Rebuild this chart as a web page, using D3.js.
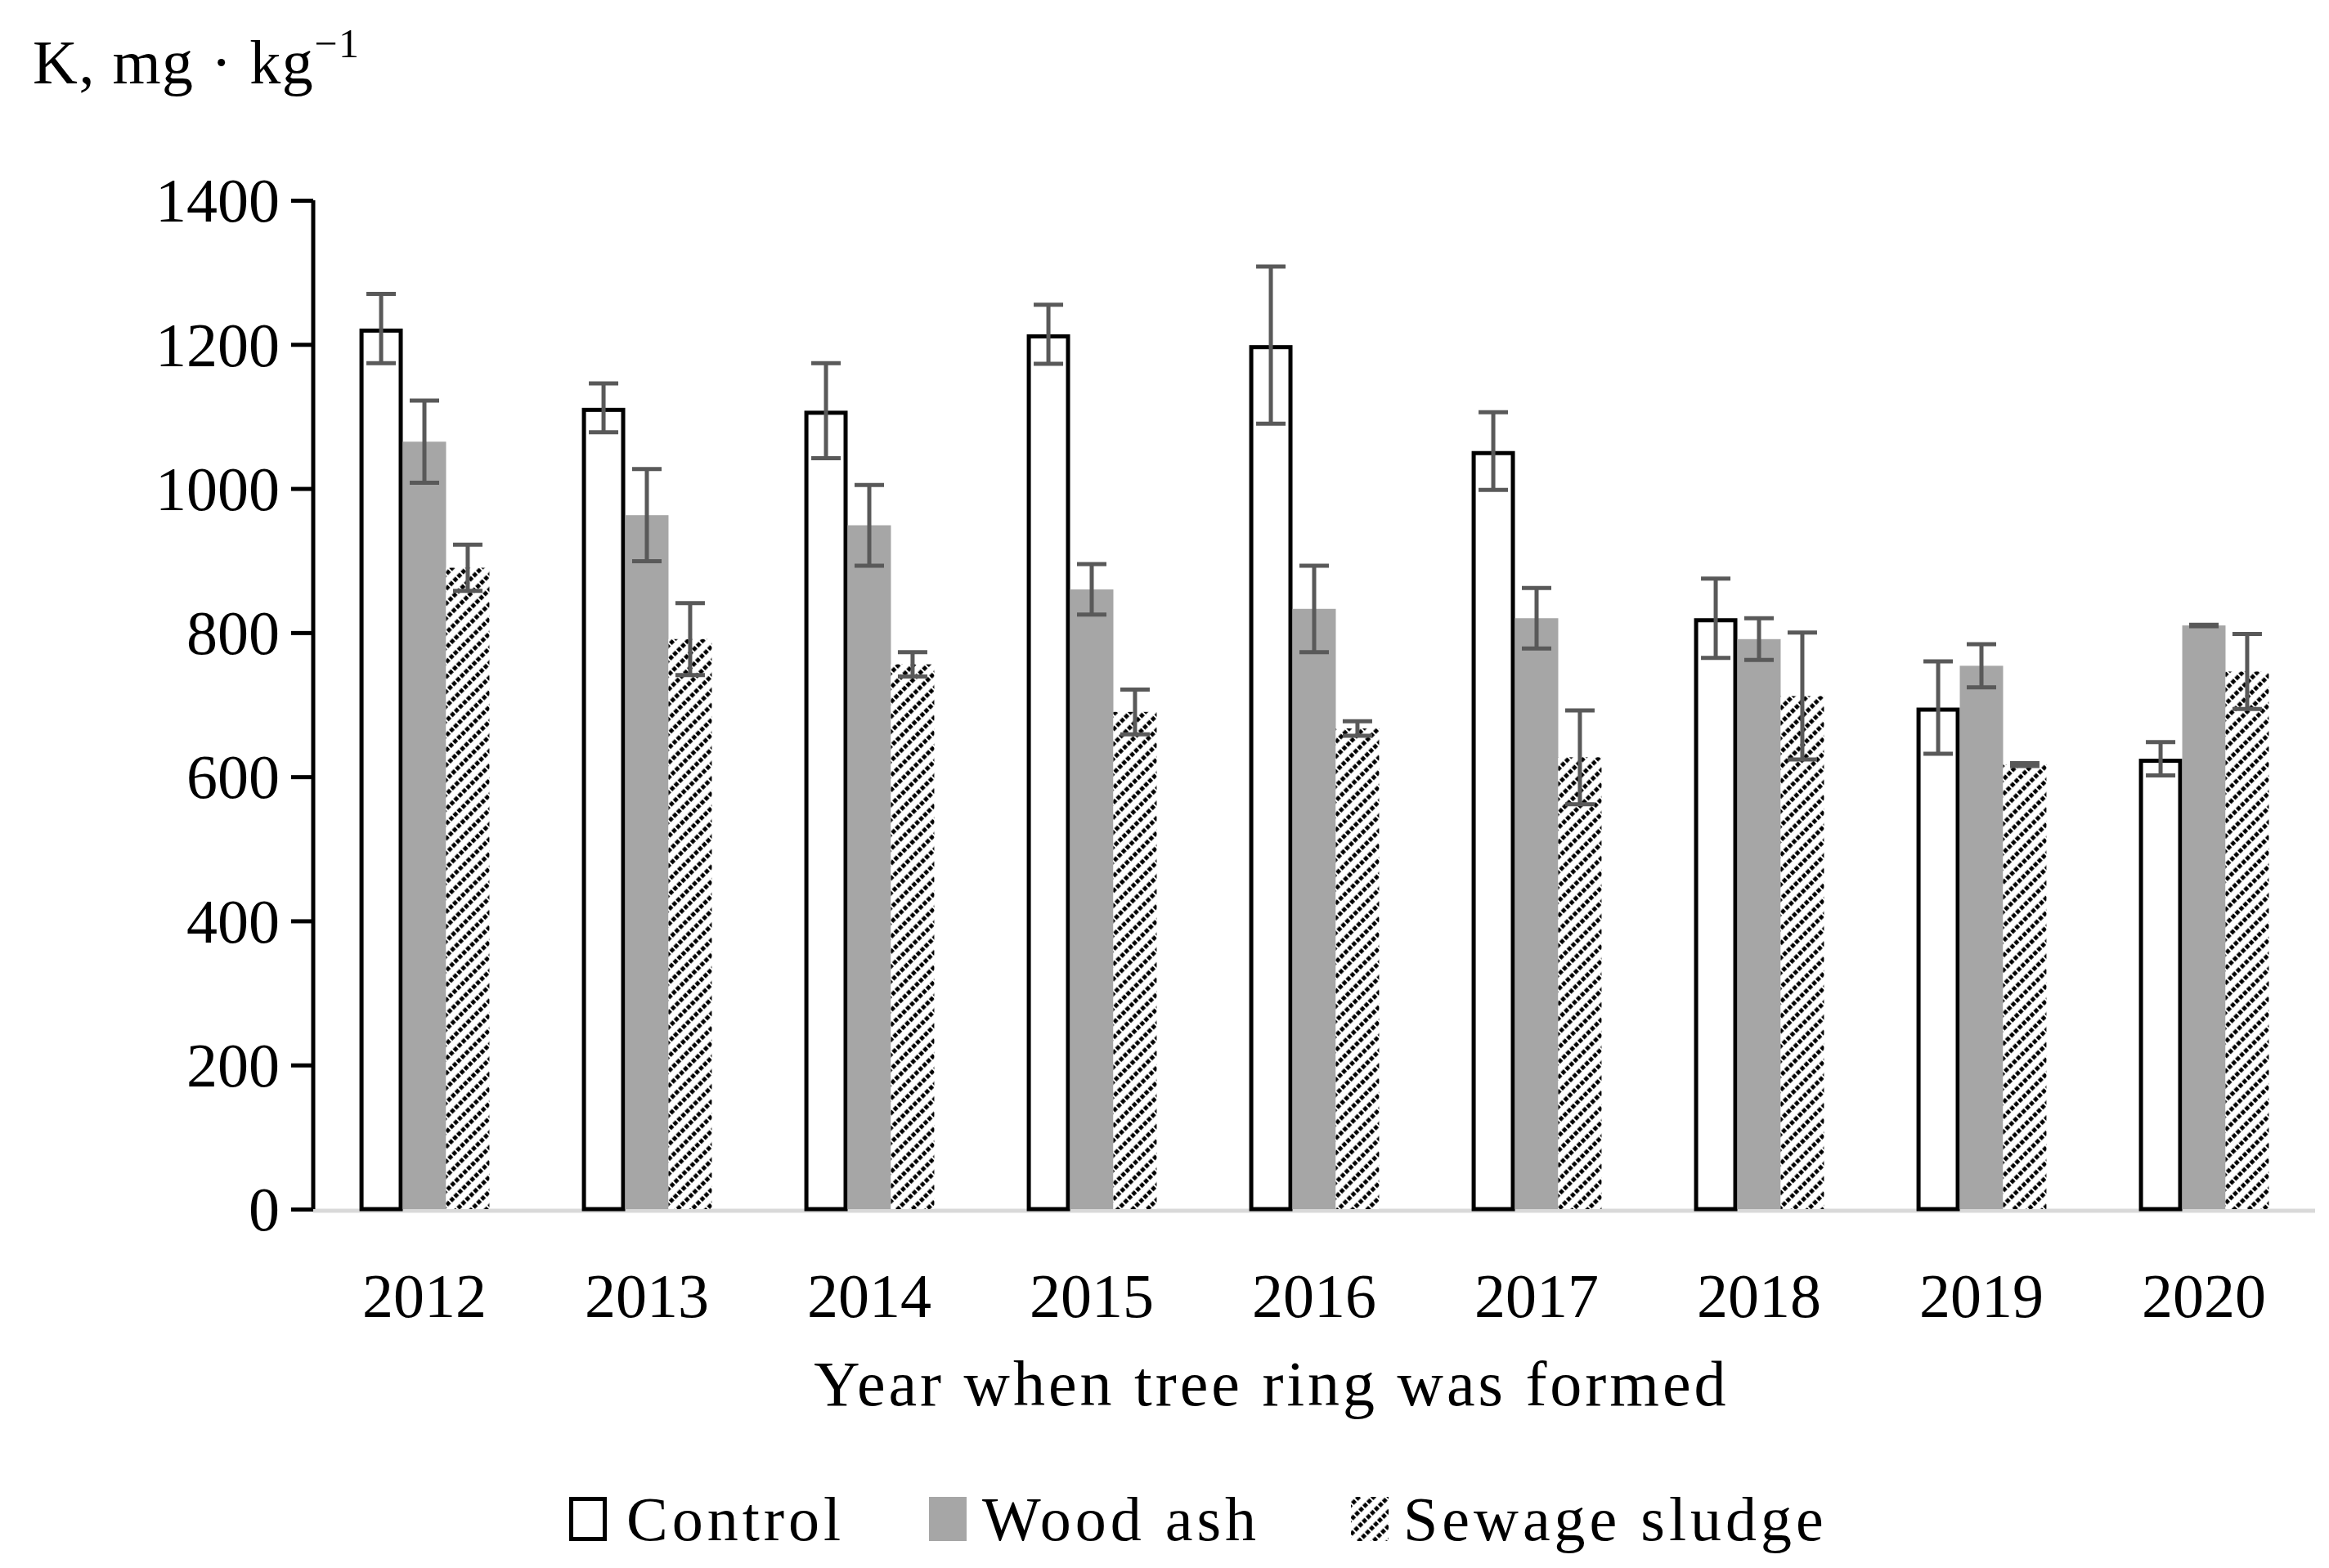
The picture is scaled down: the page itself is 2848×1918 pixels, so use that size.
<!DOCTYPE html>
<html>
<head>
<meta charset="utf-8">
<script src="https://cdn.jsdelivr.net/npm/d3@7"></script>
<style>
  body { margin: 0; background: #fff; }
  text { font-family: "Liberation Serif", "DejaVu Serif", serif; fill: #000; }
</style>
</head>
<body>
<svg id="chart"></svg>
<script>
// data
const years = ["2012", "2013", "2014", "2015", "2016", "2017", "2018", "2019", "2020"];
const seriesNames = ["Control", "Wood ash", "Sewage sludge"];
const control   = [1222, 1112, 1108, 1214, 1199, 1052, 820, 696, 625];
const controlErr = [48, 34, 66, 41, 109, 54, 55, 64, 23];
const woodAsh   = [1065, 963, 949, 860, 833, 820, 791, 754, 810];
const woodAshErr = [57, 64, 56, 35, 60, 42, 29, 30, 1];
const sludge    = [890, 791, 756, 690, 667, 627, 712, 617, 746];
const sludgeErr = [32, 50, 17, 31, 10, 65, 88, 2, 52];
const yTicks = [0, 200, 400, 600, 800, 1000, 1200, 1400];

const W = 2848, H = 1918;
const margin = { top: 245, left: 383, right: 17, bottom: 439 };

const svg = d3.select("#chart").attr("width", W).attr("height", H);

// hatch for sewage sludge (dotted "/" lines)
const defs = svg.append("defs");
const pat = defs.append("pattern")
    .attr("id", "hatch")
    .attr("patternUnits", "userSpaceOnUse")
    .attr("width", 12.7).attr("height", 14)
    .attr("patternTransform", "rotate(45)");
pat.append("rect").attr("width", 12.7).attr("height", 14).attr("fill", "#fff");
pat.append("line")
    .attr("x1", 6).attr("x2", 6).attr("y1", 0).attr("y2", 14)
    .attr("stroke", "#000").attr("stroke-width", 5)
    .attr("stroke-dasharray", "5 2");

const x = d3.scaleBand()
    .domain(years)
    .range([margin.left, W - margin.right])
    .paddingInner(0.416)
    .paddingOuter(0.208);

const xs = d3.scaleBand()
    .domain(seriesNames)
    .range([0, x.bandwidth()]);

const y = d3.scaleLinear()
    .domain([0, 1400])
    .range([H - margin.bottom, margin.top]);

const series = [
    { name: "Control", vals: control, err: controlErr, fill: "#fff", stroke: "#000" },
    { name: "Wood ash", vals: woodAsh, err: woodAshErr, fill: "#a6a6a6", stroke: "none" },
    { name: "Sewage sludge", vals: sludge, err: sludgeErr, fill: "url(#hatch)", stroke: "none" }
];

// x axis baseline (light grey, no ticks)
svg.append("line")
    .attr("x1", margin.left).attr("x2", W - margin.right)
    .attr("y1", y(0) + 2).attr("y2", y(0) + 2)
    .attr("stroke", "#d9d9d9").attr("stroke-width", 5);

// bars
series.forEach(s => {
    const inset = s.stroke === "none" ? 0 : 2.5;
    svg.append("g").selectAll("rect")
        .data(years)
        .enter().append("rect")
        .attr("x", (d, i) => x(d) + xs(s.name) + inset)
        .attr("y", (d, i) => y(s.vals[i]) + inset)
        .attr("width", xs.bandwidth() - 2 * inset)
        .attr("height", (d, i) => y(0) - y(s.vals[i]) - inset)
        .attr("fill", s.fill)
        .attr("stroke", s.stroke)
        .attr("stroke-width", 5);
});

// error bars
const cap = 18;
series.forEach(s => {
    const g = svg.append("g").attr("stroke", "#595959").attr("stroke-width", 5);
    years.forEach((d, i) => {
        const cx = x(d) + xs(s.name) + xs.bandwidth() / 2;
        const lo = y(s.vals[i] - s.err[i]), hi = y(s.vals[i] + s.err[i]);
        g.append("line").attr("x1", cx).attr("x2", cx).attr("y1", lo).attr("y2", hi);
        g.append("line").attr("x1", cx - cap).attr("x2", cx + cap).attr("y1", lo).attr("y2", lo);
        g.append("line").attr("x1", cx - cap).attr("x2", cx + cap).attr("y1", hi).attr("y2", hi);
    });
});

// y axis
const yAxis = svg.append("g")
    .attr("transform", "translate(" + margin.left + ",0)")
    .call(d3.axisLeft(y).tickValues(yTicks).tickSize(27).tickPadding(14).tickFormat(d3.format("d")));
yAxis.select(".domain").attr("stroke", "#000").attr("stroke-width", 5)
    .attr("d", "M0," + y(1400) + "V" + y(0));
yAxis.selectAll(".tick line").attr("stroke", "#000").attr("stroke-width", 5);
yAxis.selectAll(".tick text").style("font-size", "76px").attr("dy", "0.34em")
    .style("font-family", '"Liberation Serif", serif');

// x tick labels
const xAxis = svg.append("g")
    .attr("transform", "translate(0," + y(0) + ")")
    .call(d3.axisBottom(x).tickSize(0).tickPadding(78));
xAxis.select(".domain").remove();
xAxis.selectAll(".tick text").style("font-size", "76px")
    .style("font-family", '"Liberation Serif", serif');

// axis titles
svg.append("text")
    .attr("x", (margin.left + W - margin.right) / 2 - 52)
    .attr("y", 1719)
    .attr("text-anchor", "middle")
    .style("font-size", "78px")
    .style("letter-spacing", "4px")
    .text("Year when tree ring was formed");

const yl = svg.append("text")
    .attr("x", 40).attr("y", 102)
    .style("font-size", "76px")
    .style("letter-spacing", "1.5px");
yl.append("tspan").text("K, mg \u00B7 kg");
yl.append("tspan").attr("dy", -32).style("font-size", "50px").text("\u22121");

// legend
const legendItems = [
    { name: "Control", fill: "#fff", stroke: "#000", bx: 696, tx: 766 },
    { name: "Wood ash", fill: "#a6a6a6", stroke: "none", bx: 1136, tx: 1201 },
    { name: "Sewage sludge", fill: "url(#hatch)", stroke: "none", bx: 1652, tx: 1716 }
];
const leg = svg.append("g");
legendItems.forEach(l => {
    const inset = l.stroke === "none" ? 0 : 2.5;
    leg.append("rect")
        .attr("x", l.bx + inset)
        .attr("y", 1831 + inset)
        .attr("width", 46 - 2 * inset)
        .attr("height", 54 - 2 * inset)
        .attr("fill", l.fill).attr("stroke", l.stroke).attr("stroke-width", 5);
    leg.append("text")
        .attr("x", l.tx).attr("y", 1884)
        .style("font-size", "76px")
        .style("letter-spacing", "5px")
        .text(l.name);
});
</script>
</body>
</html>
